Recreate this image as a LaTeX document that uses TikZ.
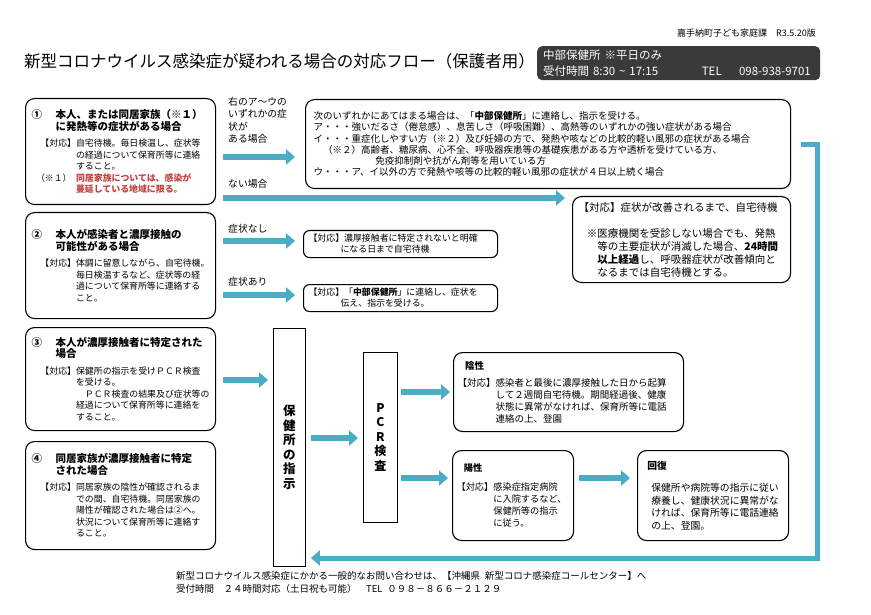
\documentclass[tikz,border=0pt]{standalone}
\usepackage{fontspec}
\setmainfont{Noto Sans CJK JP}
\usepackage{xcolor}
\usepackage{tikz}
\usetikzlibrary{arrows.meta}
\definecolor{aoYaji}{RGB}{75,172,198}
\definecolor{akaMoji}{RGB}{196,64,60}
\definecolor{sumiBako}{RGB}{58,58,58}
\newcommand{\taiou}{\hspace*{1em}【対応】}
\newcommand{\sage}{\hspace*{5em}}
\newcommand{\midasi}{\fontsize{10.5}{12}\selectfont\bfseries}

\begin{document}
\begin{tikzpicture}[x=1pt, y=-1pt,
  waku/.style={draw, line width=1.1pt, rounded corners=9pt, anchor=north west,
               align=left, inner xsep=6pt, inner ysep=2pt},
  komado/.style={waku, rounded corners=6pt, inner xsep=5pt},
  tate/.style={draw, line width=0.9pt, anchor=north west, align=center, inner sep=0pt},
  yaji/.style={draw=aoYaji, line width=6pt, -{Triangle[width=15pt,length=9pt]}},
  hon/.style={font=\fontsize{8.9}{11.5}\selectfont},
  ranbun/.style={anchor=west, align=left, inner sep=0pt, font=\fontsize{9.8}{12.3}\selectfont}]

\useasboundingbox (0,0) rectangle (871,615);
\fill[white] (0,0) rectangle (871,615);

\node[anchor=east, inner sep=0pt, font=\fontsize{9}{11}\selectfont] (han) at (816,33)
  {嘉手納町子ども家庭課\hspace{1em}R3.5.20版};
\node[anchor=west, inner sep=0pt, font=\fontsize{16.5}{19}\selectfont] (midashi) at (24,61)
  {新型コロナウイルス感染症が疑われる場合の対応フロー（保護者用）};
\node[fill=sumiBako, text=white, rounded corners=5pt, anchor=north west, text width=271pt,
      inner xsep=6pt, inner ysep=2pt, minimum height=34pt, align=left,
      font=\fontsize{11.5}{15.5}\selectfont] (madoguchi) at (537,46)
  {中部保健所 ※平日のみ\\受付時間 8:30 \textasciitilde{} 17:15\hspace{3.8em}TEL\hspace{1.5em}098-938-9701};

\node[waku, hon, text width=178pt, minimum height=106pt] (ichi) at (25,98)
  {{\midasi\makebox[24pt][l]{①}本人、または同居家族（※１）\\
    \hspace*{24pt}に発熱等の症状がある場合}\\[5pt]
   \taiou 自宅待機。毎日検温し、症状等\\
   \sage の経過について保育所等に連絡\\
   \sage すること。\\
   \hspace*{0.5em}（※１）{\color{akaMoji}\bfseries\hspace*{0.5em}同居家族については、感染が}\\
   \hspace*{5em}{\color{akaMoji}\bfseries 蔓延している地域に限る。}};

\node[waku, hon, text width=178pt, minimum height=106pt] (ni) at (25,212)
  {{\midasi\makebox[24pt][l]{②}本人が感染者と濃厚接触の\\
    \hspace*{24pt}可能性がある場合}\\[5pt]
   \taiou 体調に留意しながら、自宅待機。\\
   \sage 毎日検温するなど、症状等の経\\
   \sage 過について保育所等に連絡する\\
   \sage こと。};

\node[waku, hon, text width=178pt, minimum height=103pt] (san) at (25,327)
  {{\midasi\makebox[24pt][l]{③}本人が濃厚接触者に特定された\\
    \hspace*{24pt}場合}\\[5pt]
   \taiou 保健所の指示を受けＰＣＲ検査\\
   \sage を受ける。\\
   \sage\hspace*{1em}ＰＣＲ検査の結果及び症状等の\\
   \sage 経過について保育所等に連絡を\\
   \sage すること。};

\node[waku, hon, text width=178pt, minimum height=108pt] (yon) at (25,441)
  {{\midasi\makebox[24pt][l]{④}同居家族が濃厚接触者に特定\\
    \hspace*{24pt}された場合}\\[5pt]
   \taiou 同居家族の陰性が確認されるま\\
   \sage での間、自宅待機。同居家族の\\
   \sage 陽性が確認された場合は②へ。\\
   \sage 状況について保育所等に連絡す\\
   \sage ること。};

\node[waku, text width=469pt, inner xsep=8pt, minimum height=89pt,
      font=\fontsize{9.5}{11.3}\selectfont] (shoujou) at (305,99)
  {次のいずれかにあてはまる場合は、「\textbf{中部保健所}」に連絡し、指示を受ける。\\
   ア・・・強いだるさ（倦怠感）、息苦しさ（呼吸困難）、高熱等のいずれかの強い症状がある場合\\
   イ・・・重症化しやすい方（※２）及び妊婦の方で、発熱や咳などの比較的軽い風邪の症状がある場合\\
   \hspace*{1em}（※２）高齢者、糖尿病、心不全、呼吸器疾患等の基礎疾患がある方や透析を受けている方、\\
   \hspace*{6.5em}免疫抑制剤や抗がん剤等を用いている方\\
   ウ・・・ア、イ以外の方で発熱や咳等の比較的軽い風邪の症状が４日以上続く場合};

\node[waku, text width=206pt, minimum height=86pt,
      font=\fontsize{10.5}{13}\selectfont] (taiki) at (572,196)
  {【対応】症状が改善されるまで、自宅待機\\[13pt]
   \hspace*{0.8em}※医療機関を受診しない場合でも、発熱\\
   \hspace*{1.8em}等の主要症状が消滅した場合、\textbf{24時間}\\
   \hspace*{1.8em}\textbf{以上経過}し、呼吸器症状が改善傾向と\\
   \hspace*{1.8em}なるまでは自宅待機とする。};

\node[komado, text width=184pt, minimum height=27pt,
      font=\fontsize{8.9}{11}\selectfont] (hiNoukou) at (303,230)
  {【対応】濃厚接触者に特定されないと明確\\\hspace*{3.6em}になる日まで自宅待機};
\node[komado, text width=184pt, minimum height=27pt,
      font=\fontsize{8.9}{11}\selectfont] (renrakuD) at (303,284)
  {【対応】「\textbf{中部保健所}」に連絡し、症状を\\\hspace*{3.6em}伝え、指示を受ける。};

\node[tate, minimum width=32pt, minimum height=238pt,
      font=\fontsize{12.5}{14.5}\selectfont\bfseries] (hoken) at (273,328) {保\\健\\所\\の\\指\\示};
\node[tate, minimum width=34pt, minimum height=170pt,
      font=\fontsize{12}{14.5}\selectfont\bfseries] (pcr) at (363,352) {P\\C\\R\\検\\査};

\node[waku, text width=222pt, inner xsep=4pt, minimum height=79pt,
      font=\fontsize{9.5}{12}\selectfont] (insei) at (453,352)
  {\hspace*{0.8em}{\bfseries 陰性}\\[5pt]
   【対応】感染者と最後に濃厚接触した日から起算\\
   \hspace*{4em}して２週間自宅待機。期間経過後、健康\\
   \hspace*{4em}状態に異常がなければ、保育所等に電話\\
   \hspace*{4em}連絡の上、登園};

\node[waku, text width=113pt, inner xsep=4pt, minimum height=90pt,
      font=\fontsize{9.2}{12}\selectfont] (yousei) at (452,450)
  {\hspace*{0.8em}{\bfseries 陽性}\\[7pt]
   【対応】感染症指定病院\\
   \hspace*{4em}に入院するなど、\\
   \hspace*{4em}保健所等の指示\\
   \hspace*{4em}に従う。};

\node[waku, text width=143pt, inner xsep=4pt, minimum height=90pt,
      font=\fontsize{9.8}{12.4}\selectfont] (kaifuku) at (637,450)
  {\hspace*{0.6em}{\bfseries 回復}\\[10pt]
   \hspace*{1em}保健所や病院等の指示に従い\\
   \hspace*{1em}療養し、健康状況に異常がな\\
   \hspace*{1em}ければ、保育所等に電話連絡\\
   \hspace*{1em}の上、登園。};

\node[ranbun, anchor=north west] (lblAri) at (228,97) {右のア〜ウの\\いずれかの症\\状が\\ある場合};
\node[ranbun] (lblNai) at (228,184) {ない場合};
\node[ranbun] (lblNasi) at (228,229) {症状なし};
\node[ranbun] (lblAri2) at (228,282) {症状あり};

\node[anchor=north west, align=left, inner sep=0pt, font=\fontsize{9.5}{13.5}\selectfont] (toiawase) at (176,571)
  {新型コロナウイルス感染症にかかる一般的なお問い合わせは、【沖縄県\hspace{0.5em}新型コロナ感染症コールセンター】へ\\
   受付時間\hspace{1em}２４時間対応（土日祝も可能）\hspace{1em}TEL\hspace{0.5em}０９８－８６６－２１２９};

\coordinate (r1) at (0,157);
\coordinate (r2) at (0,198);
\coordinate (r3) at (0,241);
\coordinate (r4) at (0,295);
\coordinate (r5) at (0,380);
\coordinate (r6) at (0,438);
\coordinate (r7) at (0,392);
\coordinate (r8) at (0,478);
\coordinate (modori) at (817,558);

\draw[yaji, shorten <=7pt, shorten >=10pt] (ichi.east |- r1) -- (shoujou.west |- r1);
\draw[yaji, shorten <=7pt, shorten >=7pt] (ichi.east |- r2) -- (taiki.west |- r2);
\draw[yaji, shorten <=7pt, shorten >=8pt] (ni.east |- r3) -- (hiNoukou.west |- r3);
\draw[yaji, shorten <=7pt, shorten >=8pt] (ni.east |- r4) -- (renrakuD.west |- r4);
\draw[yaji, shorten <=7pt, shorten >=5pt] (san.east |- r5) -- (hoken.west |- r5);
\draw[yaji, shorten <=5pt, shorten >=5pt] (hoken.east |- r6) -- (pcr.west |- r6);
\draw[yaji, shorten <=3pt, shorten >=3pt] (pcr.east |- r7) -- (insei.west |- r7);
\draw[yaji, shorten <=3pt, shorten >=4pt] (pcr.east |- r8) -- (yousei.west |- r8);
\draw[yaji, shorten <=5pt, shorten >=7pt] (yousei.east |- r8) -- (kaifuku.west |- r8);
\draw[yaji, line width=5pt, shorten >=5pt] ([xshift=10pt]shoujou.east) -| (modori) -- (hoken.east |- modori);

\end{tikzpicture}
\end{document}
